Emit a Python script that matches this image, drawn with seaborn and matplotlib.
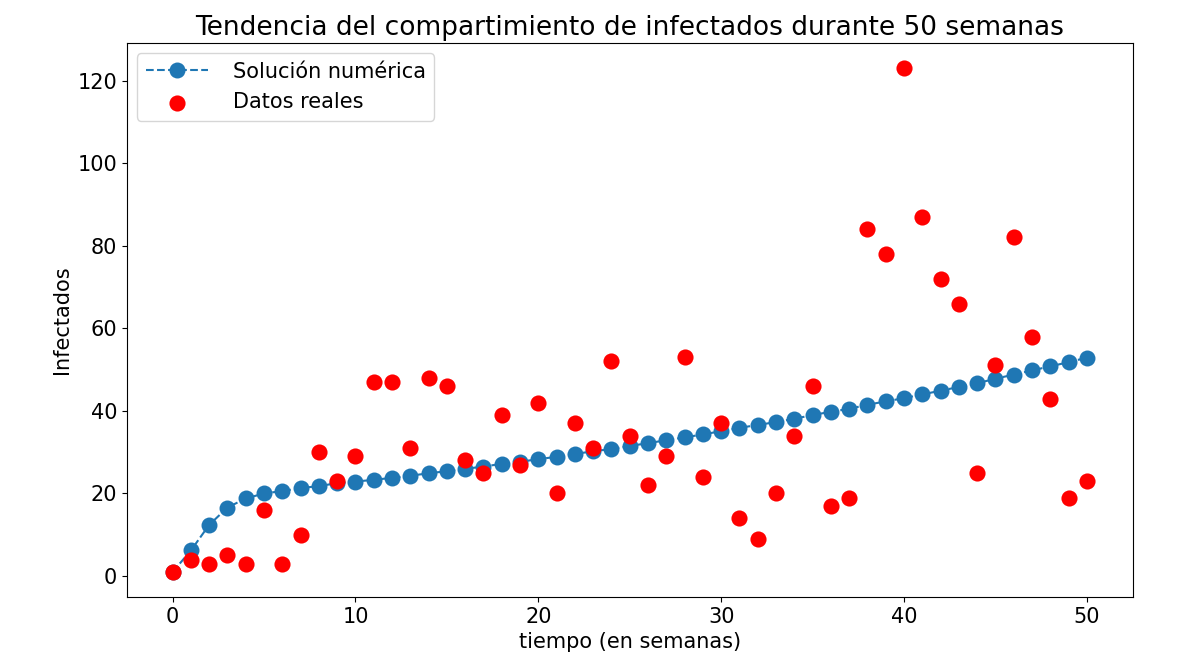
import numpy as np
import matplotlib
matplotlib.use("Agg")
import matplotlib.pyplot as plt
import seaborn as sns

semanas = list(range(51))
solucion_numerica = [1.0, 6.2, 12.4, 16.6, 18.8, 20.0, 20.6, 21.3, 21.8, 22.5,
                     22.9, 23.3, 23.8, 24.3, 24.9, 25.4, 26.0, 26.5, 27.2, 27.7,
                     28.3, 28.9, 29.6, 30.2, 30.8, 31.5, 32.2, 32.9, 33.6, 34.3,
                     35.1, 35.9, 36.6, 37.3, 38.1, 39.0, 39.8, 40.5, 41.5, 42.3,
                     43.1, 44.0, 44.9, 45.8, 46.7, 47.8, 48.8, 49.8, 50.8, 51.8, 52.9]
datos_reales = [1, 4, 3, 5, 3, 16, 3, 10, 30, 23,
                29, 47, 47, 31, 48, 46, 28, 25, 39, 27,
                42, 20, 37, 31, 52, 34, 22, 29, 53, 24,
                37, 14, 9, 20, 34, 46, 17, 19, 84, 78,
                123, 87, 72, 66, 25, 51, 82, 58, 43, 19, 23]

fig = plt.figure(figsize=(11.86, 6.62), dpi=100)
ax = fig.add_axes([0.107, 0.098, 0.848, 0.837])

sns.lineplot(x=semanas, y=solucion_numerica, ax=ax, color="#1f77b4",
             linestyle="--", marker="o", markersize=11.5, markeredgewidth=0,
             markeredgecolor="#1f77b4", label="Solución numérica")
sns.scatterplot(x=semanas, y=datos_reales, ax=ax, color="red", s=135,
                linewidth=0, label="Datos reales", zorder=3)

ax.set_title("Tendencia del compartimiento de infectados durante 50 semanas",
             fontsize=19)
ax.set_xlabel("tiempo (en semanas)", fontsize=15)
ax.set_ylabel("Infectados", fontsize=15)
ax.set_xticks([0, 10, 20, 30, 40, 50])
ax.set_yticks([0, 20, 40, 60, 80, 100, 120])
ax.tick_params(labelsize=15)
ax.legend(loc="upper left", fontsize=15, handlelength=3.0, handletextpad=1.2)

fig.savefig("out.png", dpi=100)
